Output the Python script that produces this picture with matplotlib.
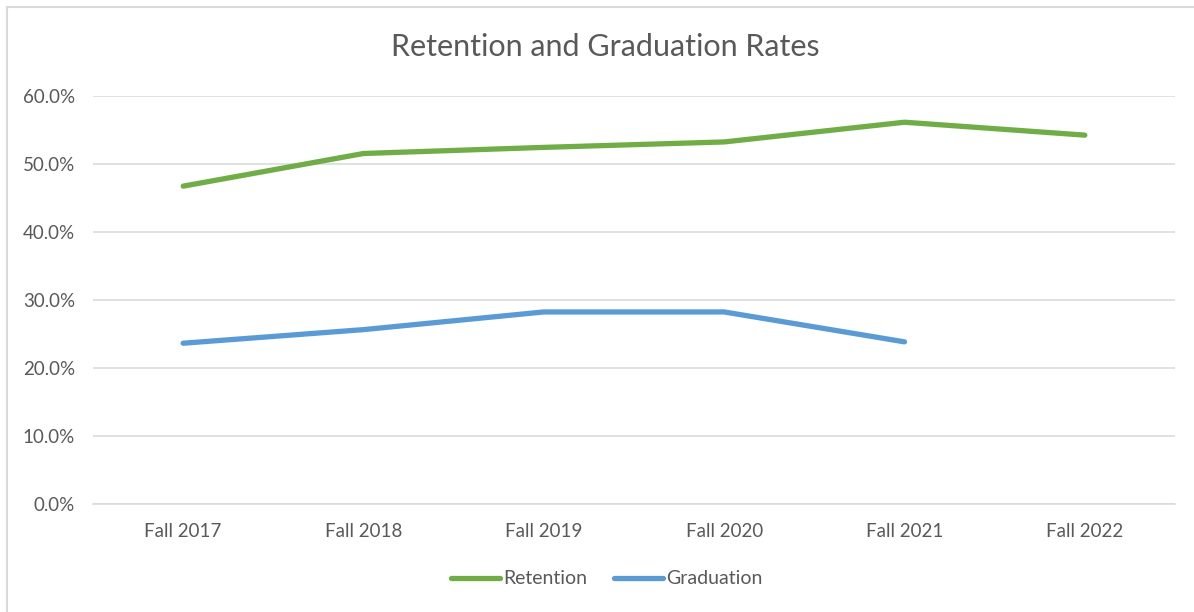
import matplotlib.pyplot as plt
from matplotlib.lines import Line2D
from matplotlib.ticker import FuncFormatter

terms = ['Fall 2017', 'Fall 2018', 'Fall 2019', 'Fall 2020', 'Fall 2021', 'Fall 2022']
retention = [46.7, 51.5, 52.4, 53.2, 56.1, 54.2]
graduation = [23.6, 25.6, 28.2, 28.2, 23.8]

W, H = 1194, 612
fig = plt.figure(figsize=(W / 100, H / 100), dpi=100)
plt.rcParams['font.family'] = ['Lato', 'DejaVu Sans']

text_color = '#595959'
grid_color = '#D9D9D9'

ax = fig.add_axes([93 / W, 1 - 503.7 / H, 1082 / W, 408 / H])
ax.plot(range(len(retention)), retention, color='#70AD47', lw=3.8,
        solid_capstyle='round', solid_joinstyle='round', label='Retention')
ax.plot(range(len(graduation)), graduation, color='#5B9BD5', lw=3.8,
        solid_capstyle='round', solid_joinstyle='round', label='Graduation')

ax.set_xlim(-0.5, len(terms) - 0.5)
ax.set_ylim(0, 60)
ax.set_yticks(range(0, 61, 10))
ax.yaxis.set_major_formatter(FuncFormatter(lambda v, p: f'{v:.1f}%'))
ax.set_xticks(range(len(terms)))
ax.set_xticklabels(terms)
ax.grid(axis='y', color=grid_color, lw=1.1)
ax.set_axisbelow(True)
for s in ['top', 'right', 'left']:
    ax.spines[s].set_visible(False)
ax.spines['bottom'].set_color(grid_color)
ax.spines['bottom'].set_linewidth(1.1)
ax.tick_params(length=0, labelsize=13.5, colors=text_color)
ax.tick_params(axis='x', pad=14)
ax.tick_params(axis='y', pad=13)

fig.text(605 / W, 1 - 47 / H, 'Retention and Graduation Rates', ha='center', va='center',
         fontsize=22, color=text_color)

leg = ax.legend(loc='center', bbox_to_anchor=(607 / W, 1 - 579 / H), bbox_transform=fig.transFigure,
                ncol=2, frameon=False, fontsize=14, handlelength=2.5, handletextpad=0.2,
                columnspacing=1.35, borderpad=0)
for t in leg.get_texts():
    t.set_color(text_color)

# chart border
fig.add_artist(Line2D([6.5 / W, 1], [1 - 6.5 / H, 1 - 6.5 / H], color=grid_color, lw=1.5))
fig.add_artist(Line2D([6.5 / W, 6.5 / W], [0, 1 - 6.5 / H], color=grid_color, lw=1.5))

fig.savefig('out.png', dpi=100)
